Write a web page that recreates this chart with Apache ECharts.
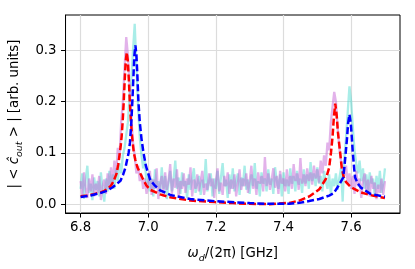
<!DOCTYPE html>
<html>
<head>
<meta charset="utf-8">
<script src="https://cdn.jsdelivr.net/npm/echarts@6/dist/echarts.min.js"></script>
<style>html,body{margin:0;padding:0;background:#fff}#c{width:415px;height:269px}</style>
</head>
<body>
<div id="c"></div>
<script>
// sampling of the measured traces (GHz)
const freqStart = 6.8;
const freqStep = 0.005;

// measured |<c_out>| trace, cyan (one row = 10 samples, 0.05 GHz)
const cyanValues = [
  0.030,0.060,0.010,0.048,0.075,0.022,0.040,0.008,0.052,0.028,
  0.045,0.015,0.062,0.030,0.005,0.050,0.025,0.065,0.035,0.058,
  0.030,0.070,0.045,0.080,0.060,0.095,0.110,0.135,0.160,0.215,
  0.240,0.300,0.352,0.270,0.190,0.130,0.095,0.070,0.085,0.040,
  0.060,0.025,0.050,0.015,0.068,0.035,0.045,0.020,0.072,0.030,
  0.055,0.010,0.042,0.065,0.025,0.048,0.085,0.030,0.052,0.020,
  0.062,0.035,0.045,0.012,0.058,0.028,0.050,0.070,0.022,0.040,
  0.055,0.018,0.048,0.032,0.088,0.025,0.045,0.060,0.015,0.050,
  0.030,0.065,0.020,0.052,0.080,0.035,0.048,0.012,0.058,0.030,
  0.070,0.025,0.045,0.060,0.018,0.052,0.035,0.075,0.028,0.048,
  0.020,0.058,0.035,0.080,0.030,0.045,0.015,0.062,0.040,0.050,
  0.025,0.068,0.038,0.050,0.020,0.072,0.045,0.030,0.058,0.015,
  0.062,0.035,0.048,0.020,0.070,0.040,0.055,0.025,0.065,0.038,
  0.050,0.022,0.068,0.040,0.058,0.030,0.082,0.045,0.060,0.035,
  0.072,0.040,0.055,0.025,0.065,0.045,0.030,0.058,0.020,0.050,
  0.035,0.060,0.028,0.050,0.070,0.005,0.090,0.130,0.180,0.230,
  0.200,0.150,0.105,0.080,0.060,0.085,0.045,0.070,0.030,0.058,
  0.025,0.062,0.040,0.050,0.015,0.055,0.030,0.065,0.022,0.040,
  0.070
];

// measured |<c_out>| trace, violet
const violetValues = [
  0.045,0.018,0.062,0.030,0.012,0.050,0.025,0.058,0.015,0.040,
  0.022,0.055,0.008,0.035,0.048,0.020,0.060,0.030,0.072,0.040,
  0.085,0.055,0.110,0.090,0.160,0.200,0.265,0.326,0.290,0.225,
  0.170,0.120,0.095,0.060,0.075,0.045,0.058,0.030,0.050,0.020,
  0.042,0.065,0.018,0.048,0.030,0.070,0.010,0.040,0.055,0.015,
  0.062,0.028,0.045,0.078,0.020,0.050,0.032,0.068,0.012,0.045,
  0.030,0.060,0.022,0.050,0.038,0.072,0.015,0.048,0.030,0.058,
  0.025,0.045,0.065,0.018,0.040,0.028,0.060,0.035,0.050,0.012,
  0.045,0.070,0.025,0.042,0.018,0.055,0.035,0.062,0.020,0.048,
  0.030,0.058,0.015,0.040,0.068,0.028,0.050,0.035,0.060,0.022,
  0.045,0.075,0.030,0.050,0.018,0.062,0.040,0.055,0.025,0.092,
  0.035,0.060,0.028,0.048,0.070,0.032,0.055,0.020,0.065,0.040,
  0.050,0.025,0.068,0.035,0.055,0.030,0.078,0.045,0.060,0.028,
  0.090,0.040,0.058,0.035,0.070,0.045,0.062,0.038,0.075,0.050,
  0.068,0.042,0.085,0.060,0.095,0.075,0.120,0.105,0.160,0.190,
  0.219,0.200,0.150,0.110,0.085,0.070,0.055,0.075,0.040,0.060,
  0.030,0.055,0.020,0.065,0.035,0.050,0.012,0.045,0.060,0.025,
  0.048,0.015,0.055,0.030,0.042,0.010,0.038,0.022,0.050,0.018,
  0.045
];

// fitted curve, red dashed: [freq, value]
const redFit = [
  [6.800,0.0155],[6.820,0.017],[6.840,0.0195],[6.860,0.023],[6.870,0.026],[6.880,0.030],
  [6.890,0.036],[6.898,0.0455],[6.9065,0.060],[6.9115,0.078],[6.9155,0.098],[6.9185,0.113],
  [6.9215,0.133],[6.9245,0.162],[6.9275,0.199],[6.9305,0.243],[6.9335,0.280],[6.9365,0.296],
  [6.9395,0.281],[6.9425,0.245],[6.9455,0.200],[6.9485,0.165],[6.9515,0.137],[6.9545,0.117],
  [6.9575,0.100],[6.962,0.086],[6.968,0.072],[6.975,0.062],[6.985,0.048],[6.995,0.036],
  [7.006,0.028],[7.035,0.019],[7.065,0.0135],[7.124,0.007],[7.197,0.004],[7.250,0.002],
  [7.300,0.0006],[7.359,0.0],[7.418,0.0025],[7.447,0.007],[7.476,0.015],[7.506,0.029],
  [7.525,0.049],[7.535,0.071],[7.5403,0.100],[7.545,0.131],[7.549,0.170],[7.553,0.196],
  [7.557,0.175],[7.561,0.140],[7.5676,0.100],[7.572,0.072],[7.5774,0.054],[7.585,0.043],
  [7.600,0.0327],[7.6284,0.023],[7.663,0.0167],[7.700,0.012]
];

// fitted curve, blue dashed: [freq, value]
const blueFit = [
  [6.800,0.014],[6.830,0.017],[6.860,0.022],[6.878,0.026],[6.895,0.033],[6.908,0.040],
  [6.918,0.0455],[6.926,0.058],[6.933,0.072],[6.938,0.088],[6.942,0.100],[6.946,0.120],
  [6.950,0.160],[6.953,0.200],[6.956,0.245],[6.959,0.290],[6.962,0.310],[6.965,0.292],
  [6.968,0.250],[6.971,0.200],[6.975,0.160],[6.980,0.128],[6.986,0.100],[6.993,0.075],
  [7.006,0.047],[7.020,0.036],[7.035,0.027],[7.065,0.018],[7.124,0.010],[7.197,0.0058],
  [7.300,0.002],[7.359,0.0006],[7.418,0.0006],[7.447,0.0025],[7.476,0.006],[7.506,0.010],
  [7.535,0.0167],[7.548,0.021],[7.553,0.026],[7.560,0.033],[7.568,0.042],[7.5765,0.052],
  [7.580,0.072],[7.584,0.100],[7.588,0.130],[7.591,0.158],[7.595,0.175],[7.599,0.158],
  [7.602,0.130],[7.605,0.100],[7.609,0.070],[7.6118,0.052],[7.620,0.040],[7.628,0.0327],
  [7.657,0.020],[7.700,0.0145]
];

const xTicks = [6.8, 7.0, 7.2, 7.4, 7.6];
const yTicks = [0.0, 0.1, 0.2, 0.3];

const toPairs = vals => vals.map((v, i) => [+(freqStart + i * freqStep).toFixed(3), v]);

const FONT = 'DejaVu Sans';
const chart = echarts.init(document.getElementById('c'), null, {renderer: 'canvas'});
chart.setOption({
  animation: false,
  backgroundColor: '#fff',
  grid: {left: 65, right: 15, top: 15, bottom: 53, show: true, borderColor: '#000', borderWidth: 1, backgroundColor: 'transparent'},
  xAxis: {
    type: 'value', min: 6.7555, max: 7.7445,
    axisLine: {show: true, onZero: false, lineStyle: {color: '#000', width: 1}},
    axisTick: {show: true, inside: false, length: 4.5, lineStyle: {color: '#000', width: 1}, customValues: xTicks},
    axisLabel: {customValues: xTicks, color: '#000', fontFamily: FONT, fontSize: 13.3, margin: 8,
      formatter: v => v.toFixed(1)},
    splitLine: {show: true, lineStyle: {color: '#dcdcdc', width: 1.2}},
    name: '{i|ω}{s|d}{n|/(2π) [GHz]}',
    nameLocation: 'middle', nameGap: 31,
    nameTextStyle: {
      rich: {
        i: {fontFamily: FONT, fontSize: 13.3, fontStyle: 'italic', color: '#000', lineHeight: 20, verticalAlign: 'middle'},
        s: {fontFamily: FONT, fontSize: 9.5, fontStyle: 'italic', color: '#000', lineHeight: 20, verticalAlign: 'bottom'},
        n: {fontFamily: FONT, fontSize: 13.3, color: '#000', lineHeight: 20, verticalAlign: 'middle'}
      }
    }
  },
  yAxis: {
    type: 'value', min: -0.0173, max: 0.3692,
    axisLine: {show: true, onZero: false, lineStyle: {color: '#000', width: 1}},
    axisTick: {show: true, inside: false, length: 4.5, lineStyle: {color: '#000', width: 1}, customValues: yTicks},
    axisLabel: {customValues: yTicks, color: '#000', fontFamily: FONT, fontSize: 13.3, margin: 9,
      formatter: v => v.toFixed(1)},
    splitLine: {show: true, lineStyle: {color: '#dcdcdc', width: 1.2}},
    name: '{n|| < }{i|ĉ}{s|out}{n| > | [arb. units]}',
    nameLocation: 'middle', nameGap: 36, nameRotate: 90,
    nameTextStyle: {
      rich: {
        i: {fontFamily: FONT, fontSize: 13.3, fontStyle: 'italic', color: '#000', lineHeight: 20, verticalAlign: 'middle'},
        s: {fontFamily: FONT, fontSize: 9.5, fontStyle: 'italic', color: '#000', lineHeight: 20, verticalAlign: 'bottom'},
        n: {fontFamily: FONT, fontSize: 13.3, color: '#000', lineHeight: 20, verticalAlign: 'middle'}
      }
    }
  },
  series: [
    {type: 'line', data: toPairs(cyanValues), showSymbol: false, symbol: 'none',
      lineStyle: {color: 'rgba(64,214,204,0.45)', width: 2.3}, z: 2},
    {type: 'line', data: toPairs(violetValues), showSymbol: false, symbol: 'none',
      lineStyle: {color: 'rgba(195,95,212,0.48)', width: 2.3}, z: 3},
    {type: 'line', data: redFit, showSymbol: false, symbol: 'none',
      lineStyle: {color: '#ff0000', width: 2.5, type: [7, 3]}, z: 4},
    {type: 'line', data: blueFit, showSymbol: false, symbol: 'none',
      lineStyle: {color: '#0000ff', width: 2.5, type: [7, 3]}, z: 5}
  ]
});
</script>
</body>
</html>
